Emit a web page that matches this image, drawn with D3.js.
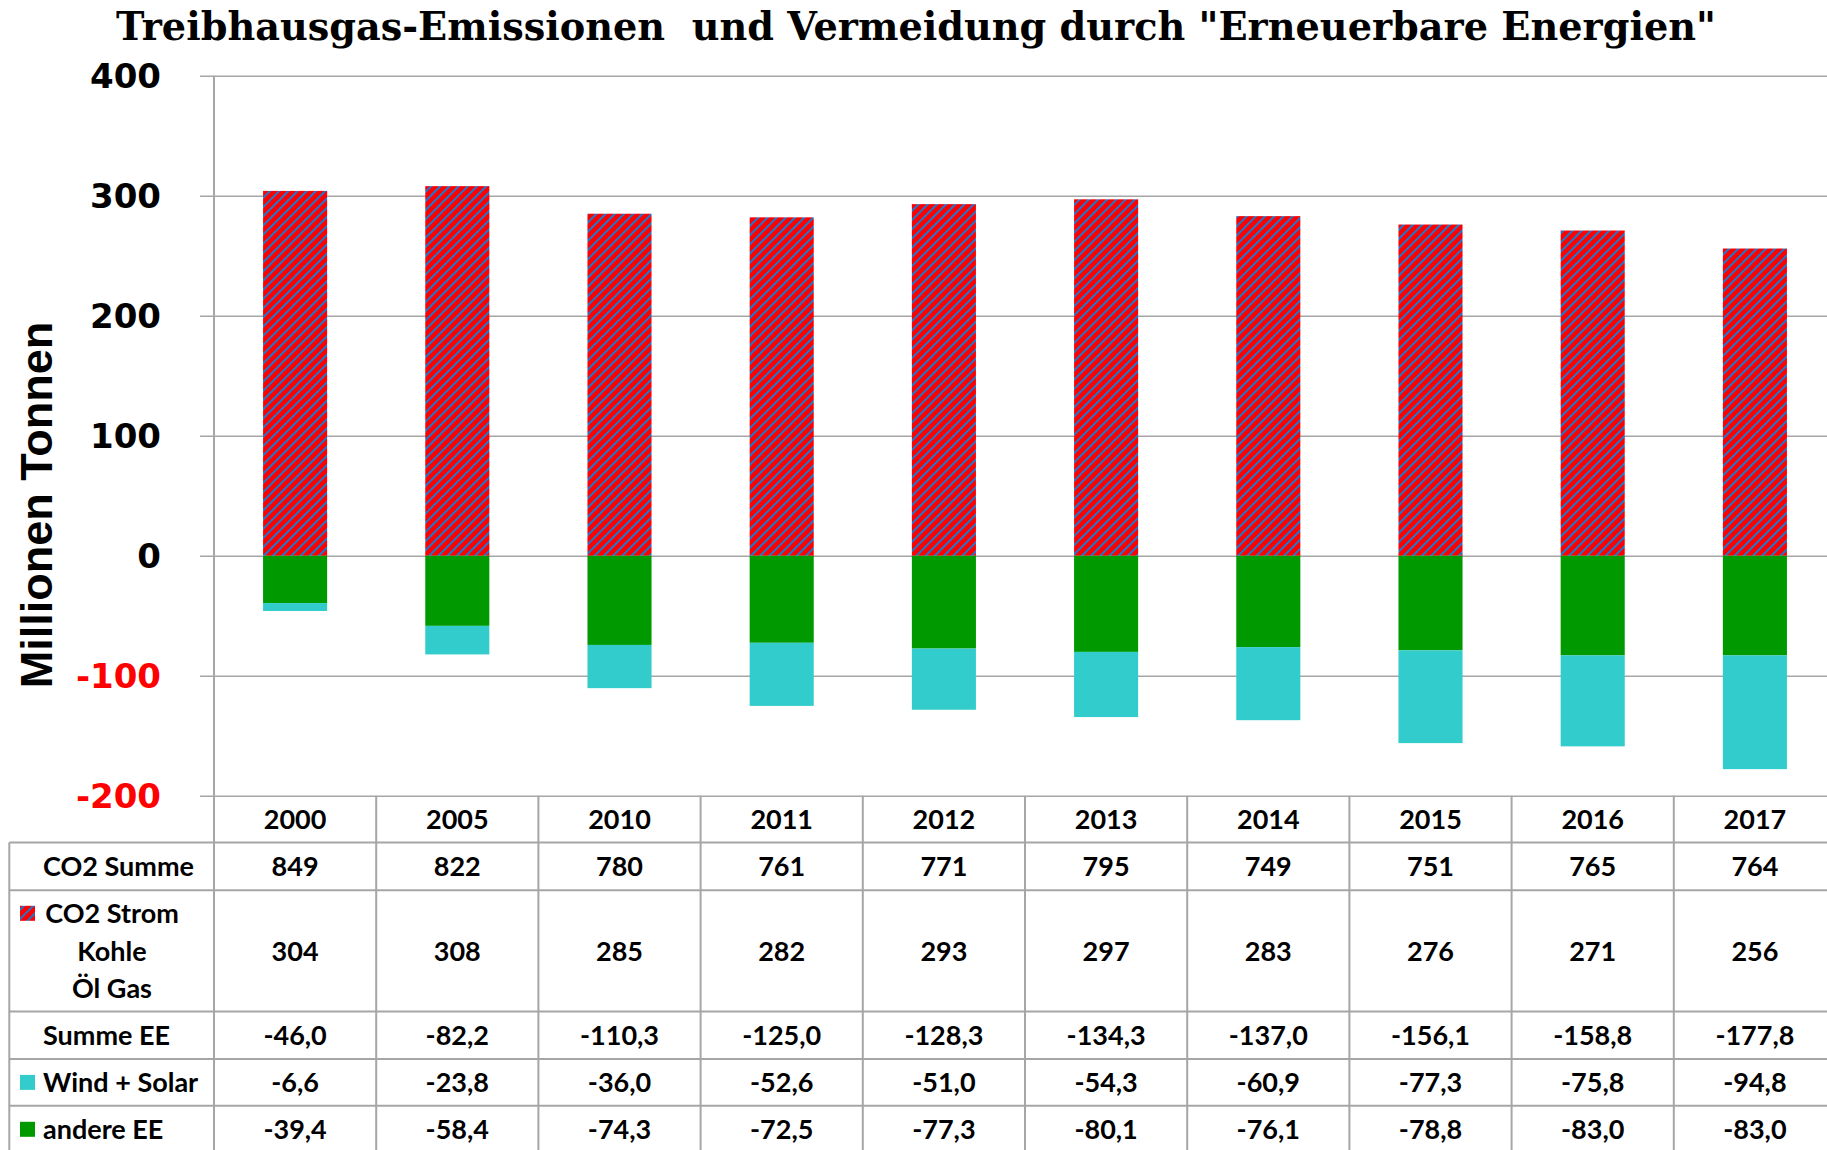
<!DOCTYPE html>
<html><head><meta charset="utf-8">
<script src="https://cdn.jsdelivr.net/npm/d3@7"></script>
<style>html,body{margin:0;padding:0;background:#fff;overflow:hidden}</style>
</head><body>
<svg id="c" width="1827" height="1150"></svg>
<script>
const years = ["2000","2005","2010","2011","2012","2013","2014","2015","2016","2017"];
const co2Summe = [849,822,780,761,771,795,749,751,765,764];
const co2Strom = [304,308,285,282,293,297,283,276,271,256];
const summeEE = [-46.0,-82.2,-110.3,-125.0,-128.3,-134.3,-137.0,-156.1,-158.8,-177.8];
const windSolar = [-6.6,-23.8,-36.0,-52.6,-51.0,-54.3,-60.9,-77.3,-75.8,-94.8];
const andereEE = [-39.4,-58.4,-74.3,-72.5,-77.3,-80.1,-76.1,-78.8,-83.0,-83.0];
const yTicks = [400,300,200,100,0,-100,-200];

const W = 1827, H = 1150;
const svg = d3.select("#c");
const gridC = "#a6a6a6";
const RED = "#ff0000", BLUE = "#1a7ad0", GREEN = "#009900", CYAN = "#33cccc";

// hatch pattern
const defs = svg.append("defs");
const PW = 6.5;
const pat = defs.append("pattern").attr("id","hatch").attr("patternUnits","userSpaceOnUse")
  .attr("width",PW).attr("height",PW).attr("patternTransform","rotate(45)");
pat.append("rect").attr("width",PW).attr("height",PW).attr("fill",RED);
pat.append("rect").attr("width",2).attr("height",PW).attr("fill",BLUE);

const axisX = 214, step = 162.2;
const x = d3.scaleBand().domain(years).range([axisX, axisX + step*years.length])
  .paddingInner(0.605).paddingOuter(0.3025);
const y = d3.scaleLinear().domain([-200,400]).range([795.8,75.7]);

// title
const title = svg.append("text").attr("x",916).attr("y",40).attr("text-anchor","middle")
  .attr("font-family","DejaVu Serif").attr("font-weight","bold").attr("font-size",34)
  .text('Treibhausgas-Emissionen\u00a0 und Vermeidung durch "Erneuerbare Energien"');
const tw = title.node().getComputedTextLength();
title.attr("font-size", 34*1600/tw);

// gridlines
const yAxis = d3.axisLeft(y).tickValues(yTicks).tickSize(-(W-200)).tickFormat("");
const ga = svg.append("g").attr("transform",`translate(200,0)`).call(yAxis);
ga.select(".domain").remove();
ga.selectAll(".tick line").attr("stroke",gridC).attr("stroke-width",1.6);

// tick labels
svg.append("g").selectAll("text").data(yTicks).join("text")
  .attr("x",161).attr("y",d=>y(d)).attr("dy","0.36em").attr("text-anchor","end")
  .attr("font-family","DejaVu Sans").attr("font-weight","bold").attr("font-size",34)
  .attr("fill",d=>d<0?RED:"#000").text(d=>d);

// y title
svg.append("text").attr("transform","translate(52,505) rotate(-90)").attr("text-anchor","middle")
  .attr("font-family","Liberation Sans").attr("font-weight","bold").attr("font-size",45)
  .text("Millionen Tonnen");

// bars
const bw = x.bandwidth();
const gb = svg.append("g");
gb.selectAll("rect.s").data(years).join("rect").attr("class","s")
  .attr("x",d=>x(d)).attr("width",bw)
  .attr("y",(d,i)=>y(co2Strom[i])).attr("height",(d,i)=>y(0)-y(co2Strom[i]))
  .attr("fill","url(#hatch)");
gb.selectAll("rect.g").data(years).join("rect").attr("class","g")
  .attr("x",d=>x(d)).attr("width",bw)
  .attr("y",y(0)).attr("height",(d,i)=>y(andereEE[i])-y(0))
  .attr("fill",GREEN);
gb.selectAll("rect.c").data(years).join("rect").attr("class","c")
  .attr("x",d=>x(d)).attr("width",bw)
  .attr("y",(d,i)=>y(andereEE[i])).attr("height",(d,i)=>y(andereEE[i]+windSolar[i])-y(andereEE[i]))
  .attr("fill",CYAN);

// table
const loc = d3.formatLocale({decimal:",", thousands:".", grouping:[3], currency:["","€"], minus:"-"});
const f1 = loc.format(".1f"), f0 = loc.format("d");
const rowTops = [795.8, 842.6, 890.2, 1011.4, 1059, 1105.8, 1152.8];
const rows = [
  {label:["CO2 Summe"], vals:co2Summe.map(f0), key:null},
  {label:["CO2 Strom","Kohle","Öl Gas"], vals:co2Strom.map(f0), key:"url(#hatch)"},
  {label:["Summe EE"], vals:summeEE.map(f1), key:null},
  {label:["Wind + Solar"], vals:windSolar.map(f1), key:CYAN},
  {label:["andere EE"], vals:andereEE.map(f1), key:GREEN}
];
const gt = svg.append("g");
const FS = 27, FF = "Lato";
rowTops.slice(1).forEach(t=>{
  gt.append("line").attr("x1",9.3).attr("x2",W).attr("y1",t).attr("y2",t)
    .attr("stroke",gridC).attr("stroke-width",2);
});
gt.append("line").attr("x1",9.3).attr("x2",9.3).attr("y1",rowTops[1]).attr("y2",H)
  .attr("stroke",gridC).attr("stroke-width",2);
for (let i=0;i<=years.length;i++){
  const xx = axisX + i*step;
  gt.append("line").attr("x1",xx).attr("x2",xx).attr("y1",i===0?75.7:rowTops[0]).attr("y2",H)
    .attr("stroke",gridC).attr("stroke-width",2);
}
gt.selectAll("text.h").data(years).join("text").attr("class","h")
  .attr("x",d=>x(d)+bw/2).attr("y",(rowTops[0]+rowTops[1])/2 + 0.36*FS)
  .attr("text-anchor","middle").attr("font-family",FF).attr("font-weight","bold").attr("font-size",FS)
  .text(d=>d);
rows.forEach((r,ri)=>{
  const top = rowTops[ri+1], bot = rowTops[ri+2], cy = (top+bot)/2;
  gt.selectAll(null).data(r.vals).join("text")
    .attr("x",(d,i)=>x(years[i])+bw/2).attr("y",cy+0.36*FS)
    .attr("text-anchor","middle").attr("font-family",FF).attr("font-weight","bold").attr("font-size",FS)
    .text(d=>d);
  const lh = 37.5;
  const n = r.label.length;
  r.label.forEach((l,li)=>{
    const ly = cy + (li-(n-1)/2)*lh;
    const t = gt.append("text").attr("y",ly+0.36*FS).attr("font-family",FF).attr("font-weight","bold").attr("font-size",FS).text(l);
    if (n>1){ t.attr("x",112).attr("text-anchor","middle"); }
    else { t.attr("x",43); }
    if (li===0 && r.key){
      gt.append("rect").attr("x",20).attr("y",ly-7.5).attr("width",15).attr("height",15).attr("fill",r.key);
    }
  });
});
</script>
</body></html>
